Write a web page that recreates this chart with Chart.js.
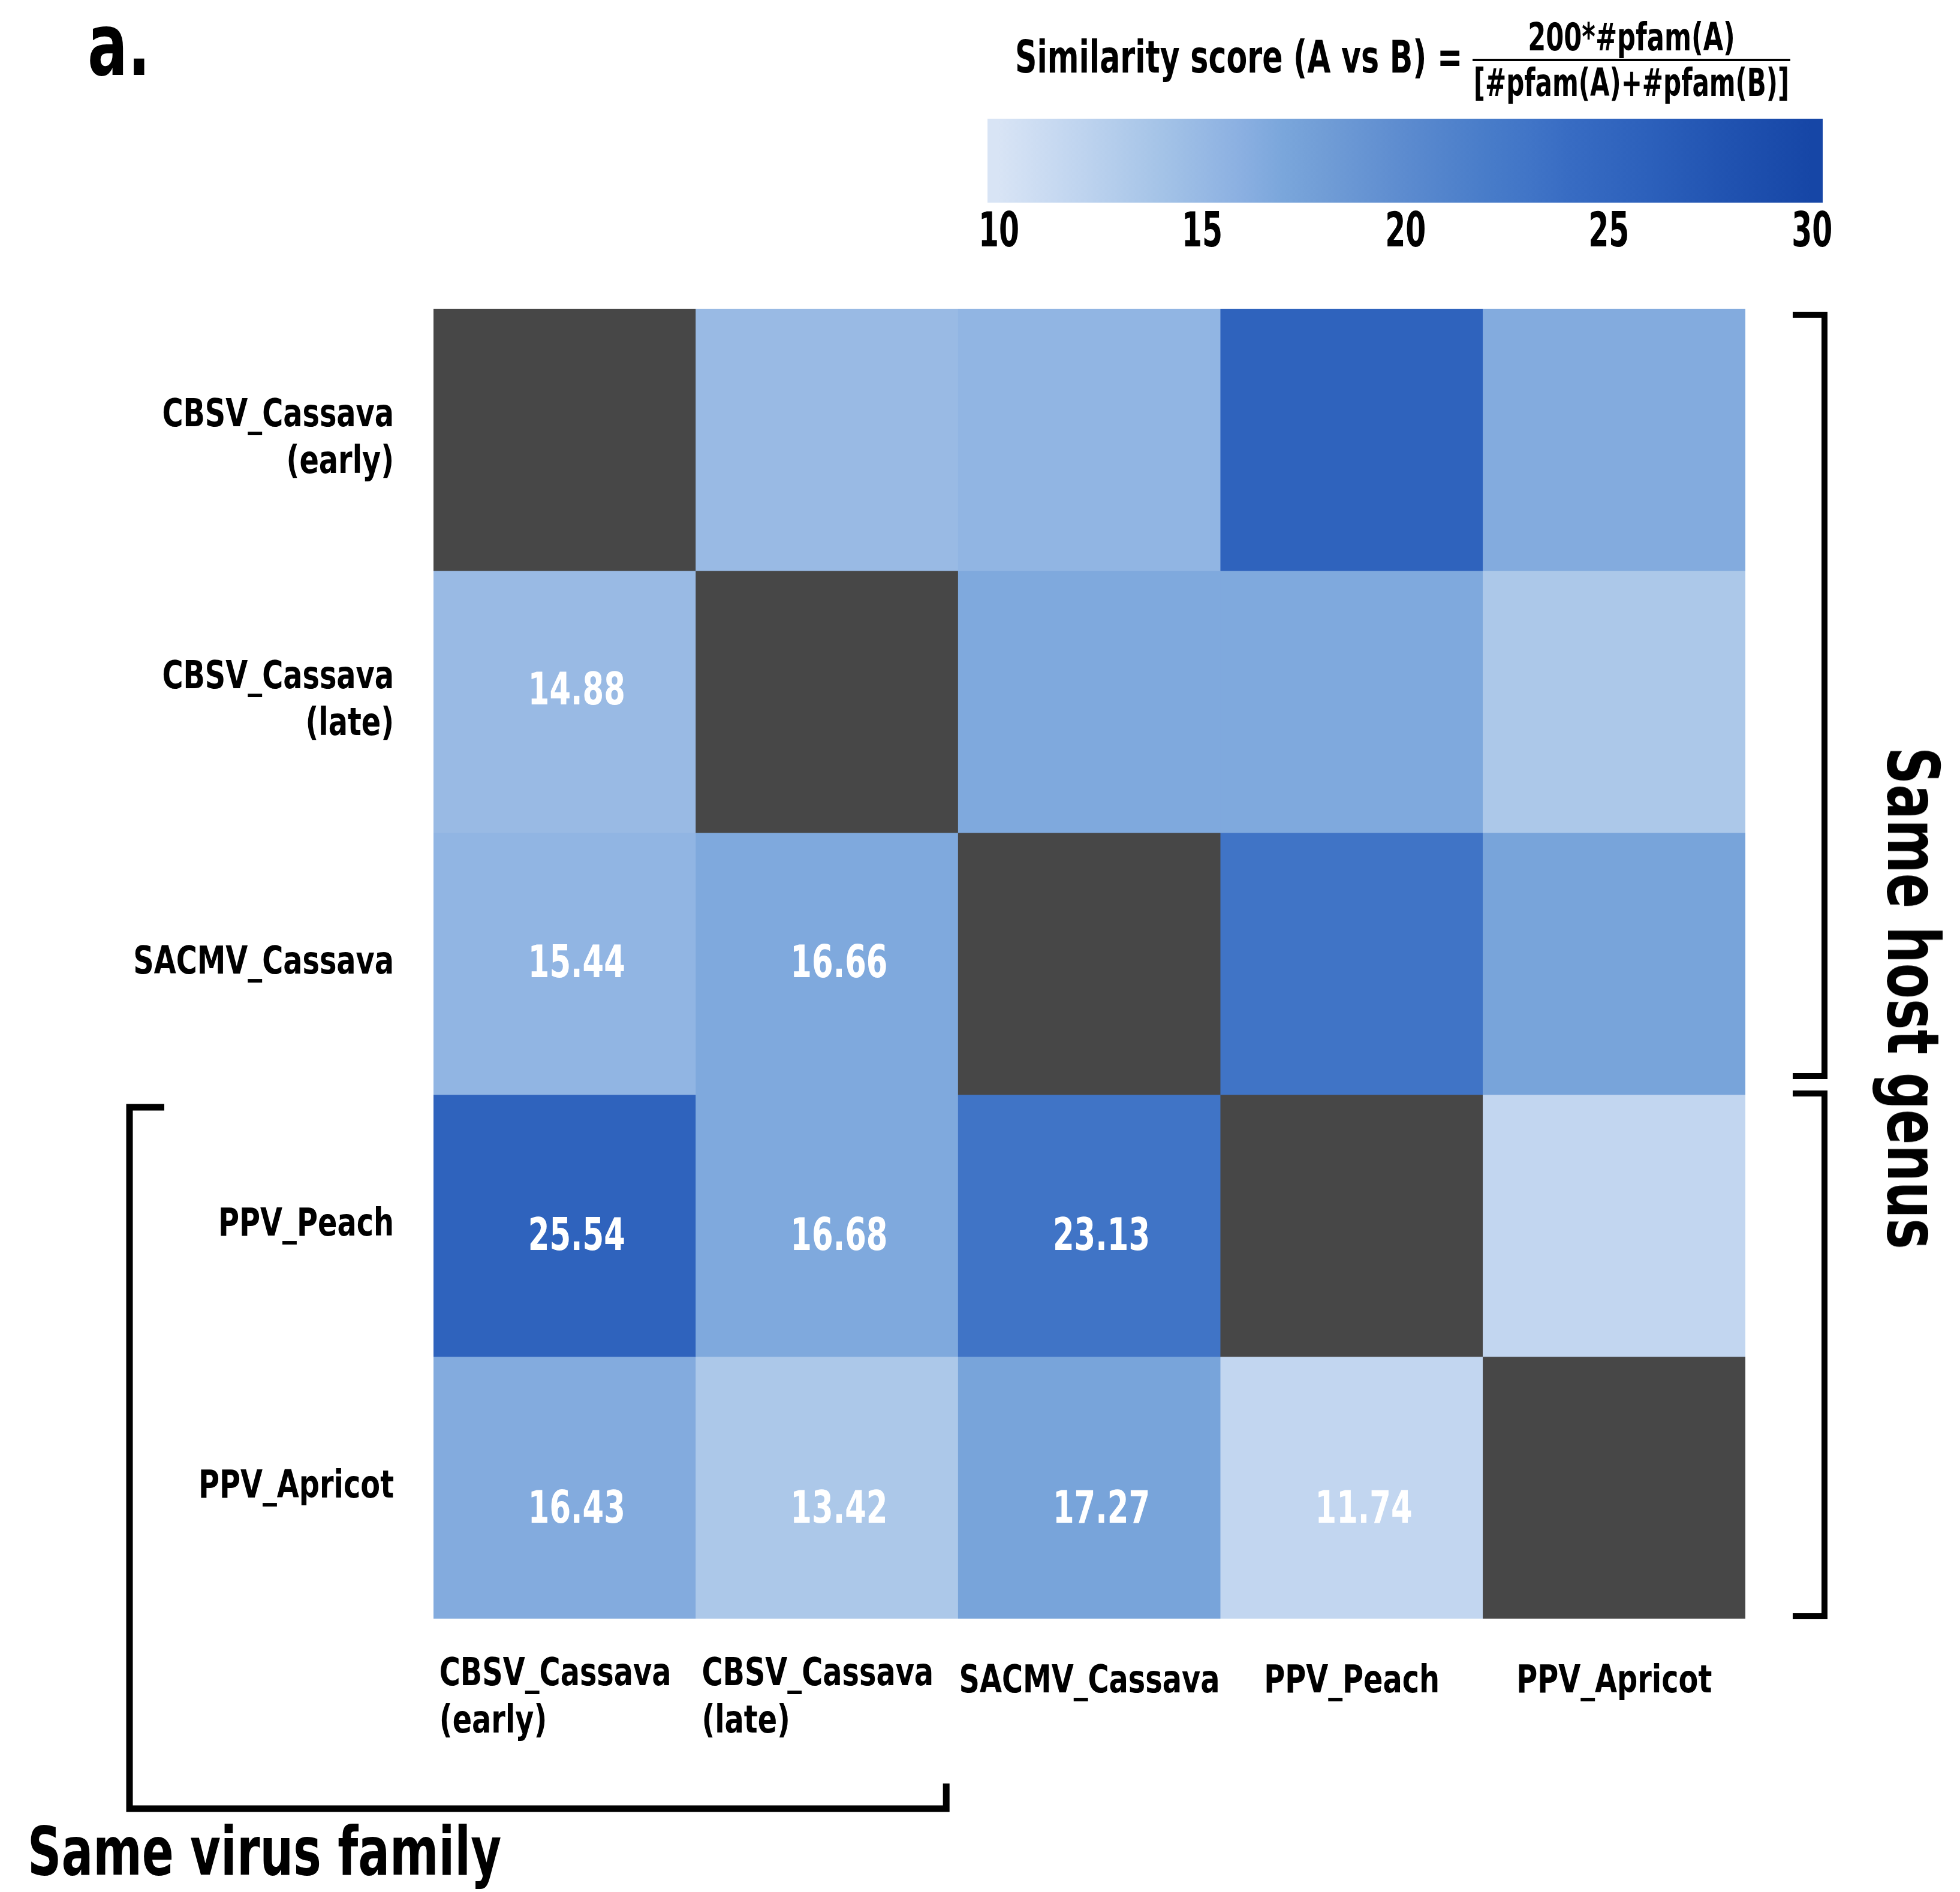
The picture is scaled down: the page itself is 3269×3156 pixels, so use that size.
<!DOCTYPE html>
<html><head><meta charset="utf-8">
<script src="https://cdn.jsdelivr.net/npm/chart.js@4.4.1/dist/chart.umd.min.js"></script>
<style>
html,body{margin:0;padding:0;background:#fff;}
body{width:3269px;height:3156px;position:relative;overflow:hidden;font-family:'Liberation Sans Narrow','DejaVu Sans Condensed','Liberation Sans',sans-serif;font-weight:bold;color:#000;}
#main{position:absolute;left:0;top:0;}
#cbar{position:absolute;left:1547px;top:198px;}
.t{position:absolute;white-space:nowrap;line-height:1;transform-origin:0 50%;}
.c{position:absolute;white-space:nowrap;line-height:1;transform-origin:50% 50%;}
</style></head><body>
<canvas id="main" width="3269" height="3156"></canvas>
<canvas id="cbar" width="1593" height="260"></canvas>
<div class="t" style="left:146px;top:2px;font-size:145px;transform:scaleX(0.76);">a.</div>
<div class="t" style="left:1693px;top:58px;font-size:74px;transform:scaleX(0.76);">Similarity score (A vs B) =</div>
<div class="c" style="left:2721px;top:30px;font-size:64px;transform:translateX(-50%) scaleX(0.75);">200*#pfam(A)</div>
<div style="position:absolute;left:2456px;top:98px;width:530px;height:4px;background:#000;"></div>
<div class="c" style="left:2721px;top:106px;font-size:64px;transform:translateX(-50%) scaleX(0.73);">[#pfam(A)+#pfam(B)]</div>
<div class="t" style="left:46px;top:3032px;font-size:113px;transform:scaleX(0.77);">Same virus family</div>
<div class="c" style="left:3190px;top:1665px;font-size:120px;transform:translate(-50%,-50%) rotate(90deg) scaleX(0.8);">Same host genus</div>
<script>
const FONT = "'Liberation Sans Narrow','DejaVu Sans Condensed','Liberation Sans',sans-serif";

// ---- data ----
const rowLabels = [['CBSV_Cassava', '(early)'], ['CBSV_Cassava', '(late)'], 'SACMV_Cassava', 'PPV_Peach', 'PPV_Apricot'];
const colLabels = [['CBSV_Cassava', '(early)'], ['CBSV_Cassava', '(late)'], 'SACMV_Cassava', 'PPV_Peach', 'PPV_Apricot'];
const scoresCBSVearly  = [null, 14.88, 15.44, 25.54, 16.43];
const scoresCBSVlate   = [14.88, null, 16.66, 16.68, 13.42];
const scoresSACMV      = [15.44, 16.66, null, 23.13, 17.27];
const scoresPPVpeach   = [25.54, 16.68, 23.13, null, 11.74];
const scoresPPVapricot = [16.43, 13.42, 17.27, 11.74, null];
const scoreRows = [scoresCBSVearly, scoresCBSVlate, scoresSACMV, scoresPPVpeach, scoresPPVapricot];
const colorbarTicks = [10, 15, 20, 25, 30];
const colorbarMin = 9.72, colorbarMax = 30.26;

// ---- colour map (style) ----
const DIAG = '#474747';
const cmap = [
  [10, [216,228,245]], [12, [191,212,239]], [14, [164,195,231]], [16, [138,175,225]],
  [17, [122,166,219]], [18, [113,157,214]], [20, [92,139,207]], [22, [72,124,201]],
  [23, [65,117,199]], [24, [56,108,195]], [26, [44,96,187]], [28, [32,82,176]], [30, [22,70,166]]
];
function colorFor(v) {
  if (v <= cmap[0][0]) return `rgb(${cmap[0][1].join(',')})`;
  for (let i = 1; i < cmap.length; i++) {
    if (v <= cmap[i][0]) {
      const [a, ca] = cmap[i-1], [b, cb] = cmap[i];
      const t = (v - a) / (b - a);
      return `rgb(${ca.map((c, k) => Math.round(c + (cb[k] - c) * t)).join(',')})`;
    }
  }
  return `rgb(${cmap[cmap.length-1][1].join(',')})`;
}

// condensed text rendering: squeeze glyphs horizontally around their anchor point
function condense(ctx, sx) {
  ctx.__sx = sx;
  if (ctx.__condensed) return;
  const orig = ctx.fillText;
  ctx.fillText = function (text, x, y, maxWidth) {
    const s = this.__sx || 1;
    this.save();
    this.translate(x, y);
    this.scale(s, 1);
    if (maxWidth === undefined) orig.call(this, text, 0, 0);
    else orig.call(this, text, 0, 0, maxWidth / s);
    this.restore();
  };
  ctx.__condensed = true;
}
const condensePlugin = sx => ({
  id: 'condense',
  beforeDraw(chart) { condense(chart.ctx, sx); }
});

const cellText = {
  id: 'cellText',
  afterDatasetsDraw(chart) {
    const ctx = chart.ctx;
    ctx.save();
    const prev = ctx.__sx;
    ctx.__sx = 0.77;
    ctx.font = `bold 74px ${FONT}`;
    ctx.fillStyle = '#ffffff';
    ctx.textAlign = 'center';
    ctx.textBaseline = 'middle';
    chart.data.datasets.forEach((ds, r) => {
      const meta = chart.getDatasetMeta(r);
      meta.data.forEach((el, c) => {
        const v = scoreRows[r][c];
        if (v == null || c >= r) return;
        const p = el.getCenterPoint();
        ctx.fillText(v.toFixed(2), p.x + 20, p.y - 33 + 18 * r);
      });
    });
    ctx.__sx = prev;
    ctx.restore();
  }
};

const brackets = {
  id: 'brackets',
  afterDraw(chart) {
    const {ctx, chartArea: a, scales: {y}} = chart;
    const rowEdge = i => y.getPixelForValue(i);
    const colW = (a.right - a.left) / colLabels.length;
    ctx.save();
    ctx.strokeStyle = '#000';
    ctx.lineJoin = 'miter';
    ctx.lineCap = 'butt';
    ctx.lineWidth = 10;
    const bx = a.right + 132;
    const rb = (t, b) => {
      ctx.beginPath();
      ctx.moveTo(bx - 53, t); ctx.lineTo(bx, t); ctx.lineTo(bx, b); ctx.lineTo(bx - 53, b);
      ctx.stroke();
    };
    rb(rowEdge(0) + 10, rowEdge(3) - 31);
    rb(rowEdge(3) - 2, rowEdge(5) - 4);
    ctx.lineWidth = 11;
    const lx = a.left - 507, lt = rowEdge(3) + 21, lb = a.bottom + 317, rx = a.left + 2 * colW - 20;
    ctx.beginPath();
    ctx.moveTo(lx + 58, lt); ctx.lineTo(lx, lt); ctx.lineTo(lx, lb); ctx.lineTo(rx, lb); ctx.lineTo(rx, lb - 42);
    ctx.stroke();
    ctx.restore();
  }
};

const labelFont = {family: FONT, weight: 'bold', size: 64, lineHeight: 1.23};

new Chart(document.getElementById('main'), {
  type: 'bar',
  data: {
    labels: colLabels,
    datasets: scoreRows.map((row, r) => ({
      label: Array.isArray(rowLabels[r]) ? rowLabels[r].join(' ') : rowLabels[r],
      data: row.map(() => [r, r + 1]),
      backgroundColor: row.map(v => v == null ? DIAG : colorFor(v)),
      borderWidth: 0,
      barPercentage: 1,
      categoryPercentage: 1
    }))
  },
  options: {
    responsive: false,
    animation: false,
    devicePixelRatio: 1,
    layout: {padding: {left: 123, top: 515, right: 358, bottom: 456}},
    plugins: {legend: {display: false}, tooltip: {enabled: false}},
    scales: {
      x: {
        type: 'category', stacked: true, offset: true, position: {y: 5},
        grid: {display: false, drawTicks: false}, border: {display: false},
        ticks: {align: 'start', labelOffset: -209, padding: 55, color: '#000', font: labelFont,
                maxRotation: 0, minRotation: 0, autoSkip: false,
                callback: (v, i) => i < 2 ? colLabels[i] : ''}
      },
      x2: {
        type: 'category', offset: true, position: {y: 5},
        grid: {display: false, drawTicks: false}, border: {display: false},
        ticks: {align: 'center', padding: 67, color: '#000', font: labelFont,
                maxRotation: 0, minRotation: 0, autoSkip: false,
                callback: (v, i) => i >= 2 ? colLabels[i] : ''}
      },
      y: {
        type: 'linear', min: 0, max: 5, reverse: true,
        grid: {display: false, drawTicks: false}, border: {display: false},
        afterBuildTicks: s => { s.ticks = rowLabels.map((_, i) => ({value: i + 0.5})); },
        ticks: {padding: 66, color: '#000', font: labelFont, autoSkip: false,
                callback: (v, i) => rowLabels[i]},
        afterFit: s => { s.width = 600; }
      }
    }
  },
  plugins: [condensePlugin(0.83), cellText, brackets]
});

new Chart(document.getElementById('cbar'), {
  type: 'bar',
  data: {
    labels: [''],
    datasets: [{
      data: [[colorbarMin, colorbarMax]],
      backgroundColor: c => {
        const ch = c.chart, xs = ch.scales.x;
        if (!xs || !ch.chartArea) return colorFor(20);
        const x0 = xs.getPixelForValue(colorbarTicks[0]);
        const x1 = xs.getPixelForValue(colorbarTicks[colorbarTicks.length - 1]);
        const g = ch.ctx.createLinearGradient(x0, 0, x1, 0);
        cmap.forEach(([v, col]) => g.addColorStop((v - 10) / 20, `rgb(${col.join(',')})`));
        return g;
      },
      borderWidth: 0,
      barPercentage: 1,
      categoryPercentage: 1
    }]
  },
  options: {
    indexAxis: 'y',
    responsive: false,
    animation: false,
    devicePixelRatio: 1,
    layout: {padding: {left: 100, right: 100, top: 0, bottom: 0}},
    plugins: {legend: {display: false}, tooltip: {enabled: false}},
    scales: {
      y: {display: false},
      x: {
        type: 'linear', min: colorbarMin, max: colorbarMax,
        afterBuildTicks: s => { s.ticks = colorbarTicks.map(v => ({value: v})); },
        grid: {display: false, drawTicks: false}, border: {display: false},
        ticks: {padding: 12, color: '#000', font: {family: FONT, weight: 'bold', size: 80, lineHeight: 1}, maxRotation: 0},
        afterFit: s => { s.height = 120; }
      }
    }
  },
  plugins: [condensePlugin(0.68)]
});
</script>
</body></html>
